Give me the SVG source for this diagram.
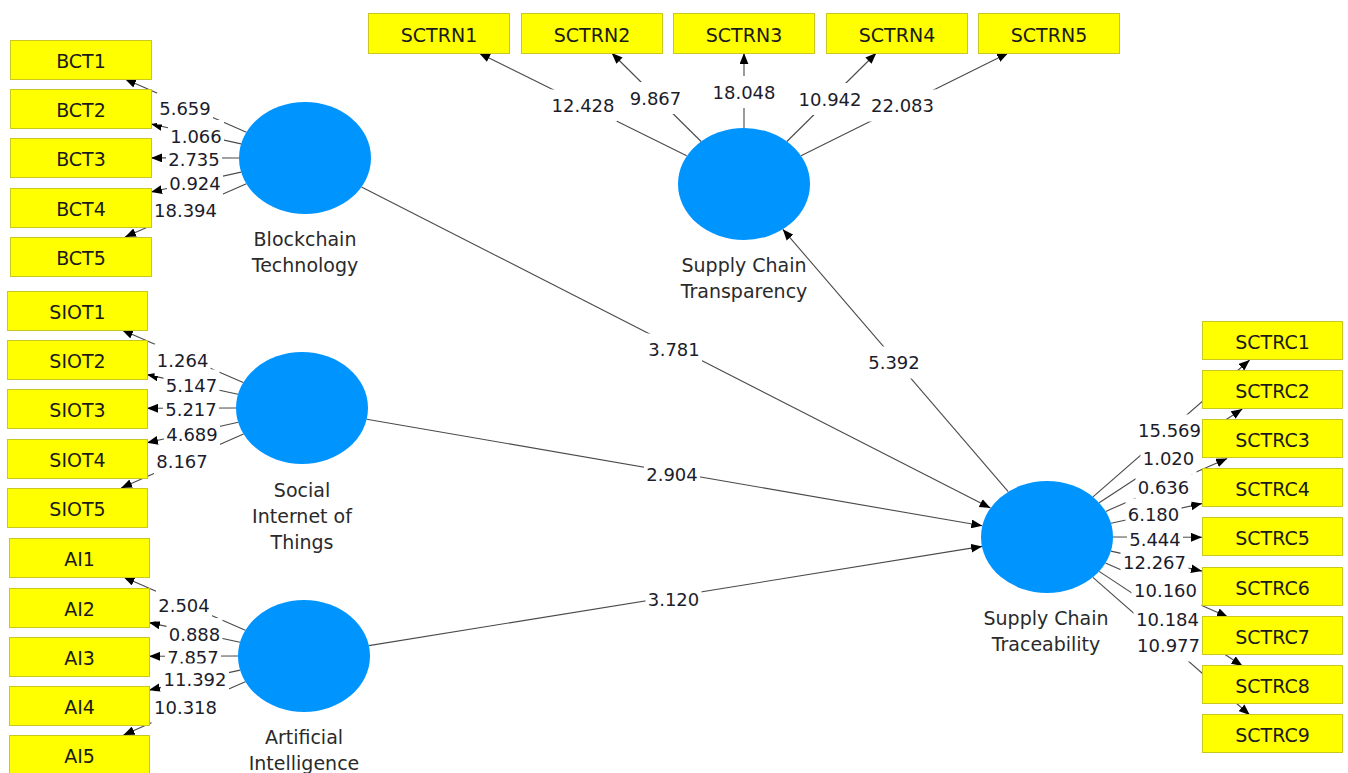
<svg xmlns="http://www.w3.org/2000/svg" width="1348" height="773" viewBox="0 0 1348 773">
<defs>
<style>
.bg{fill:#ffffff}
.ind{fill:#ffff00;stroke:#c8c81e;stroke-width:1}
.ind-t{font-family:"DejaVu Sans",sans-serif;font-size:19px;fill:#1a1a1a;text-anchor:middle}
.lat{fill:#0094ff}
.lat-t{font-family:"DejaVu Sans",sans-serif;font-size:19px;fill:#2a2a2a;text-anchor:middle}
.ln{stroke:#4a4a4a;stroke-width:1.1;fill:none;marker-end:url(#ah)}
.lb-r{fill:#ffffff}
.lb{font-family:"DejaVu Sans",sans-serif;font-size:18px;fill:#1c1c2a;text-anchor:middle}
</style>
<marker id="ah" viewBox="0 0 10 8" refX="10" refY="4" markerWidth="11" markerHeight="9" markerUnits="userSpaceOnUse" orient="auto">
<path d="M0,0 L10,4 L0,8 Z" fill="#000000"/>
</marker>
</defs>
<rect class="bg" x="0" y="0" width="1348" height="773"/>

<g id="connectors">
<!-- BCT indicators -->
<line class="ln" x1="246.4" y1="132.3" x2="125.0" y2="79.0"/>
<line class="ln" x1="241.1" y1="143.9" x2="151.0" y2="124.0"/>
<line class="ln" x1="239.0" y1="158.0" x2="151.0" y2="157.9"/>
<line class="ln" x1="241.1" y1="172.1" x2="151.0" y2="192.0"/>
<line class="ln" x1="246.4" y1="183.7" x2="125.0" y2="237.0"/>
<!-- SIOT indicators -->
<line class="ln" x1="243.2" y1="382.5" x2="122.0" y2="330.0"/>
<line class="ln" x1="238.0" y1="394.2" x2="147.0" y2="374.6"/>
<line class="ln" x1="236.0" y1="408.0" x2="147.0" y2="408.3"/>
<line class="ln" x1="238.2" y1="422.3" x2="147.0" y2="442.8"/>
<line class="ln" x1="243.5" y1="433.9" x2="121.1" y2="488.0"/>
<!-- AI indicators -->
<line class="ln" x1="245.3" y1="630.3" x2="123.5" y2="577.0"/>
<line class="ln" x1="240.0" y1="642.2" x2="149.0" y2="622.6"/>
<line class="ln" x1="238.0" y1="656.0" x2="149.0" y2="656.3"/>
<line class="ln" x1="240.1" y1="670.1" x2="149.0" y2="690.1"/>
<line class="ln" x1="245.3" y1="681.7" x2="123.5" y2="735.0"/>
<!-- SCTRN indicators -->
<line class="ln" x1="686.7" y1="155.7" x2="479.0" y2="53.0"/>
<line class="ln" x1="701.1" y1="141.5" x2="611.7" y2="53.0"/>
<line class="ln" x1="744.0" y1="128.0" x2="744.0" y2="53.0"/>
<line class="ln" x1="786.9" y1="141.5" x2="876.3" y2="53.0"/>
<line class="ln" x1="801.0" y1="155.7" x2="1008.2" y2="53.0"/>
<!-- SCTRC indicators -->
<line class="ln" x1="1093.0" y1="496.8" x2="1249.7" y2="360.0"/>
<line class="ln" x1="1099.2" y1="502.8" x2="1242.3" y2="409.0"/>
<line class="ln" x1="1105.7" y1="511.4" x2="1227.2" y2="458.5"/>
<line class="ln" x1="1111.0" y1="523.2" x2="1202.0" y2="503.6"/>
<line class="ln" x1="1113.0" y1="537.0" x2="1202.0" y2="537.3"/>
<line class="ln" x1="1110.9" y1="551.1" x2="1202.0" y2="571.1"/>
<line class="ln" x1="1105.5" y1="562.9" x2="1227.9" y2="617.0"/>
<line class="ln" x1="1099.1" y1="571.4" x2="1242.5" y2="666.0"/>
<line class="ln" x1="1092.9" y1="577.3" x2="1249.8" y2="715.0"/>
<!-- structural paths -->
<line class="ln" x1="361.5" y1="186.9" x2="990.5" y2="508.1"/>
<line class="ln" x1="366.7" y1="419.2" x2="982.3" y2="525.8"/>
<line class="ln" x1="368.9" y1="645.6" x2="982.1" y2="546.4"/>
<line class="ln" x1="1008.2" y1="491.7" x2="782.8" y2="229.3"/>

<!-- labels -->
<g id="labels">
<rect class="lb-r" x="157" y="92.5" width="56" height="32"/><text class="lb" x="185" y="115">5.659</text>
<rect class="lb-r" x="168" y="120" width="56" height="32"/><text class="lb" x="196" y="142.5">1.066</text>
<rect class="lb-r" x="166" y="143.5" width="56" height="32"/><text class="lb" x="194" y="166">2.735</text>
<rect class="lb-r" x="167" y="167" width="56" height="32"/><text class="lb" x="195" y="189.5">0.924</text>
<rect class="lb-r" x="151.5" y="194.5" width="68" height="32"/><text class="lb" x="185.5" y="217">18.394</text>

<rect class="lb-r" x="154.6" y="344" width="56" height="32"/><text class="lb" x="182.6" y="366.5">1.264</text>
<rect class="lb-r" x="163.5" y="369.5" width="56" height="32"/><text class="lb" x="191.5" y="392">5.147</text>
<rect class="lb-r" x="163" y="393.5" width="56" height="32"/><text class="lb" x="191" y="416">5.217</text>
<rect class="lb-r" x="164" y="418.5" width="56" height="32"/><text class="lb" x="192" y="441">4.689</text>
<rect class="lb-r" x="154" y="445.5" width="56" height="32"/><text class="lb" x="182" y="468">8.167</text>

<rect class="lb-r" x="156" y="589.5" width="56" height="32"/><text class="lb" x="184" y="612">2.504</text>
<rect class="lb-r" x="166.5" y="618" width="56" height="32"/><text class="lb" x="194.5" y="640.5">0.888</text>
<rect class="lb-r" x="165" y="641.5" width="56" height="32"/><text class="lb" x="193" y="664">7.857</text>
<rect class="lb-r" x="161" y="663.5" width="68" height="32"/><text class="lb" x="195" y="686">11.392</text>
<rect class="lb-r" x="151.5" y="691.5" width="68" height="32"/><text class="lb" x="185.5" y="714">10.318</text>

<rect class="lb-r" x="549" y="89.5" width="68" height="32"/><text class="lb" x="583" y="112">12.428</text>
<rect class="lb-r" x="627.5" y="82" width="56" height="32"/><text class="lb" x="655.5" y="104.5">9.867</text>
<rect class="lb-r" x="710" y="76" width="68" height="32"/><text class="lb" x="744" y="98.5">18.048</text>
<rect class="lb-r" x="796" y="83" width="68" height="32"/><text class="lb" x="830" y="105.5">10.942</text>
<rect class="lb-r" x="868.5" y="89.5" width="68" height="32"/><text class="lb" x="902.5" y="112">22.083</text>

<rect class="lb-r" x="1135.5" y="414.5" width="68" height="32"/><text class="lb" x="1169.5" y="437">15.569</text>
<rect class="lb-r" x="1140.5" y="442.5" width="56" height="32"/><text class="lb" x="1168.5" y="465">1.020</text>
<rect class="lb-r" x="1135.5" y="471.5" width="56" height="32"/><text class="lb" x="1163.5" y="494">0.636</text>
<rect class="lb-r" x="1125.5" y="498.5" width="56" height="32"/><text class="lb" x="1153.5" y="521">6.180</text>
<rect class="lb-r" x="1127" y="523.5" width="56" height="32"/><text class="lb" x="1155" y="546">5.444</text>
<rect class="lb-r" x="1120.5" y="546.5" width="68" height="32"/><text class="lb" x="1154.5" y="569">12.267</text>
<rect class="lb-r" x="1131.5" y="574.5" width="68" height="32"/><text class="lb" x="1165.5" y="597">10.160</text>
<rect class="lb-r" x="1133.5" y="603.5" width="68" height="32"/><text class="lb" x="1167.5" y="626">10.184</text>
<rect class="lb-r" x="1134.5" y="629.5" width="68" height="32"/><text class="lb" x="1168.5" y="652">10.977</text>

<rect class="lb-r" x="646" y="333.5" width="56" height="32"/><text class="lb" x="674" y="356">3.781</text>
<rect class="lb-r" x="644" y="458.5" width="56" height="32"/><text class="lb" x="672" y="481">2.904</text>
<rect class="lb-r" x="645.5" y="583.5" width="56" height="32"/><text class="lb" x="673.5" y="606">3.120</text>
<rect class="lb-r" x="866" y="346.5" width="56" height="32"/><text class="lb" x="894" y="369">5.392</text>
</g>
</g>

<!-- Latent variables -->
<g id="BCT">
<ellipse class="lat" cx="305" cy="158" rx="66" ry="56"/>
<text class="lat-t" x="305" y="246">Blockchain</text>
<text class="lat-t" x="305" y="272">Technology</text>
</g>
<g id="SIOT">
<ellipse class="lat" cx="302" cy="408" rx="66" ry="56"/>
<text class="lat-t" x="302" y="497">Social</text>
<text class="lat-t" x="302" y="523">Internet of</text>
<text class="lat-t" x="302" y="549">Things</text>
</g>
<g id="AI">
<ellipse class="lat" cx="304" cy="656" rx="66" ry="56"/>
<text class="lat-t" x="304" y="744">Artificial</text>
<text class="lat-t" x="304" y="770">Intelligence</text>
</g>
<g id="SCTRN">
<ellipse class="lat" cx="744" cy="184" rx="66" ry="56"/>
<text class="lat-t" x="744" y="272">Supply Chain</text>
<text class="lat-t" x="744" y="298">Transparency</text>
</g>
<g id="SCTRC">
<ellipse class="lat" cx="1047" cy="537" rx="66" ry="56"/>
<text class="lat-t" x="1046" y="625">Supply Chain</text>
<text class="lat-t" x="1046" y="651">Traceability</text>
</g>

<!-- Indicators -->
<g id="BCT1"><rect class="ind" x="10.5" y="40.5" width="141" height="39"/><text class="ind-t" x="81" y="68">BCT1</text></g>
<g id="BCT2"><rect class="ind" x="10.5" y="89.5" width="141" height="39"/><text class="ind-t" x="81" y="117">BCT2</text></g>
<g id="BCT3"><rect class="ind" x="10.5" y="138.5" width="141" height="39"/><text class="ind-t" x="81" y="166">BCT3</text></g>
<g id="BCT4"><rect class="ind" x="10.5" y="188.5" width="141" height="39"/><text class="ind-t" x="81" y="216">BCT4</text></g>
<g id="BCT5"><rect class="ind" x="10.5" y="237.5" width="141" height="39"/><text class="ind-t" x="81" y="265">BCT5</text></g>

<g id="SIOT1"><rect class="ind" x="7.5" y="291.5" width="140" height="39"/><text class="ind-t" x="77.5" y="319">SIOT1</text></g>
<g id="SIOT2"><rect class="ind" x="7.5" y="340.5" width="140" height="39"/><text class="ind-t" x="77.5" y="368">SIOT2</text></g>
<g id="SIOT3"><rect class="ind" x="7.5" y="389.5" width="140" height="39"/><text class="ind-t" x="77.5" y="417">SIOT3</text></g>
<g id="SIOT4"><rect class="ind" x="7.5" y="439.5" width="140" height="39"/><text class="ind-t" x="77.5" y="467">SIOT4</text></g>
<g id="SIOT5"><rect class="ind" x="7.5" y="488.5" width="140" height="39"/><text class="ind-t" x="77.5" y="516">SIOT5</text></g>

<g id="AI1"><rect class="ind" x="9.5" y="538.5" width="140" height="39"/><text class="ind-t" x="79.5" y="566">AI1</text></g>
<g id="AI2"><rect class="ind" x="9.5" y="588.5" width="140" height="39"/><text class="ind-t" x="79.5" y="616">AI2</text></g>
<g id="AI3"><rect class="ind" x="9.5" y="637.5" width="140" height="39"/><text class="ind-t" x="79.5" y="665">AI3</text></g>
<g id="AI4"><rect class="ind" x="9.5" y="686.5" width="140" height="39"/><text class="ind-t" x="79.5" y="714">AI4</text></g>
<g id="AI5"><rect class="ind" x="9.5" y="735.5" width="140" height="39"/><text class="ind-t" x="79.5" y="763">AI5</text></g>

<g id="SCTRN1"><rect class="ind" x="368.5" y="13.5" width="141" height="40"/><text class="ind-t" x="439" y="41.5">SCTRN1</text></g>
<g id="SCTRN2"><rect class="ind" x="521.5" y="13.5" width="141" height="40"/><text class="ind-t" x="592" y="41.5">SCTRN2</text></g>
<g id="SCTRN3"><rect class="ind" x="673.5" y="13.5" width="141" height="40"/><text class="ind-t" x="744" y="41.5">SCTRN3</text></g>
<g id="SCTRN4"><rect class="ind" x="826.5" y="13.5" width="141" height="40"/><text class="ind-t" x="897" y="41.5">SCTRN4</text></g>
<g id="SCTRN5"><rect class="ind" x="978.5" y="13.5" width="141" height="40"/><text class="ind-t" x="1049" y="41.5">SCTRN5</text></g>

<g id="SCTRC1"><rect class="ind" x="1202.5" y="321.5" width="140" height="38"/><text class="ind-t" x="1272.5" y="349">SCTRC1</text></g>
<g id="SCTRC2"><rect class="ind" x="1202.5" y="370.5" width="140" height="38"/><text class="ind-t" x="1272.5" y="398">SCTRC2</text></g>
<g id="SCTRC3"><rect class="ind" x="1202.5" y="419.5" width="140" height="38"/><text class="ind-t" x="1272.5" y="447">SCTRC3</text></g>
<g id="SCTRC4"><rect class="ind" x="1202.5" y="468.5" width="140" height="38"/><text class="ind-t" x="1272.5" y="496">SCTRC4</text></g>
<g id="SCTRC5"><rect class="ind" x="1202.5" y="517.5" width="140" height="38"/><text class="ind-t" x="1272.5" y="545">SCTRC5</text></g>
<g id="SCTRC6"><rect class="ind" x="1202.5" y="567.5" width="140" height="38"/><text class="ind-t" x="1272.5" y="595">SCTRC6</text></g>
<g id="SCTRC7"><rect class="ind" x="1202.5" y="616.5" width="140" height="38"/><text class="ind-t" x="1272.5" y="644">SCTRC7</text></g>
<g id="SCTRC8"><rect class="ind" x="1202.5" y="665.5" width="140" height="38"/><text class="ind-t" x="1272.5" y="693">SCTRC8</text></g>
<g id="SCTRC9"><rect class="ind" x="1202.5" y="714.5" width="140" height="38"/><text class="ind-t" x="1272.5" y="742">SCTRC9</text></g>
</svg>
